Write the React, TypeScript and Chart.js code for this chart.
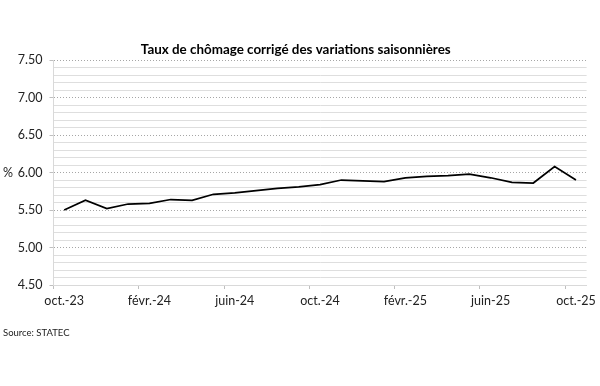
import React, { useEffect, useRef } from "react";
import { Chart, registerables } from "chart.js";

Chart.register(...registerables);

const categories = [
  "oct.-23", "nov.-23", "déc.-23", "janv.-24", "févr.-24", "mars-24", "avr.-24", "mai-24", "juin-24",
  "juil.-24", "août-24", "sept.-24", "oct.-24", "nov.-24", "déc.-24", "janv.-25", "févr.-25", "mars-25",
  "avr.-25", "mai-25", "juin-25", "juil.-25", "août-25", "sept.-25", "oct.-25",
];

const unemploymentRate = [
  5.50, 5.63, 5.52, 5.58, 5.59, 5.64, 5.63, 5.71, 5.73, 5.76, 5.79, 5.81,
  5.84, 5.90, 5.89, 5.88, 5.93, 5.95, 5.96, 5.98, 5.93, 5.87, 5.86, 6.08, 5.90,
];

const titleText = "Taux de chômage corrigé des variations saisonnières";
const sourceText = "Source: STATEC";
const yAxisLabel = "%";

const FONT = "Lato, 'Open Sans', sans-serif";

const isMajor = (v: number) => Math.abs(v * 2 - Math.round(v * 2)) < 1e-6;

const percentPlugin = {
  id: "percentLabel",
  afterDraw(chart: any) {
    const { ctx, chartArea } = chart;
    ctx.save();
    ctx.font = `12.5px ${FONT}`;
    ctx.fillStyle = "#222";
    ctx.textAlign = "left";
    ctx.textBaseline = "middle";
    ctx.fillText(yAxisLabel, 3, (chartArea.top + chartArea.bottom) / 2);
    ctx.restore();
  },
};

export default function App() {
  const ref = useRef<HTMLCanvasElement | null>(null);

  useEffect(() => {
    document.body.style.margin = "0";
    if (!ref.current) return;
    const chart = new Chart(ref.current, {
      type: "line",
      data: {
        labels: categories,
        datasets: [
          {
            data: unemploymentRate,
            borderColor: "#000000",
            borderWidth: 1.7,
            pointRadius: 0,
            tension: 0,
            fill: false,
          },
        ],
      },
      options: {
        animation: false,
        responsive: false,
        maintainAspectRatio: false,
        layout: { padding: { top: 0, bottom: 0, left: 3, right: 11.5 } },
        plugins: {
          legend: { display: false },
          tooltip: { enabled: false },
          title: {
            display: true,
            text: titleText,
            color: "#000",
            font: { family: FONT, size: 13.4, weight: "bold" },
            padding: { top: 41.6, bottom: 2.4 },
          },
          subtitle: {
            display: true,
            text: sourceText,
            position: "bottom",
            align: "start",
            color: "#222",
            font: { family: FONT, size: 9.5 },
            padding: { top: 12.6, bottom: 47 },
          },
        },
        scales: {
          x: {
            type: "category",
            offset: true,
            afterFit: (scale: any) => {
              scale.height = 30;
            },
            grid: {
              offset: true,
              drawOnChartArea: false,
              drawTicks: true,
              tickLength: 4,
              tickColor: (ctx: any) => (ctx.index % 4 === 0 ? "#bfbfbf" : "rgba(0,0,0,0)"),
            },
            border: { display: true, color: "#d9d9d9", width: 1 },
            ticks: {
              autoSkip: false,
              maxRotation: 0,
              minRotation: 0,
              padding: 4,
              color: "#222",
              font: { family: FONT, size: 12.5 },
              callback: (_v: any, i: number) => (i % 4 === 0 ? categories[i] : ""),
            },
          },
          y: {
            min: 4.5,
            max: 7.5,
            afterFit: (scale: any) => {
              scale.width = 50.5;
            },
            grid: {
              color: (ctx: any) => (isMajor(ctx.tick.value) ? "#a6a6a6" : "#dedede"),
              lineWidth: 1,
              tickLength: 4,
              tickColor: (ctx: any) => (isMajor(ctx.tick.value) ? "#bfbfbf" : "rgba(0,0,0,0)"),
            },
            border: {
              display: true,
              color: "#d9d9d9",
              width: 1,
              dash: (ctx: any) => (ctx.tick && isMajor(ctx.tick.value) ? [1, 2] : []),
            } as any,
            ticks: {
              stepSize: 0.1,
              autoSkip: false,
              padding: 7,
              color: "#222",
              font: { family: FONT, size: 12.5 },
              callback: (v: any) => (isMajor(Number(v)) ? Number(v).toFixed(2) : ""),
            },
          },
        },
      },
      plugins: [percentPlugin],
    });
    return () => chart.destroy();
  }, []);

  return <canvas ref={ref} width={600} height={386} style={{ display: "block" }} />;
}
